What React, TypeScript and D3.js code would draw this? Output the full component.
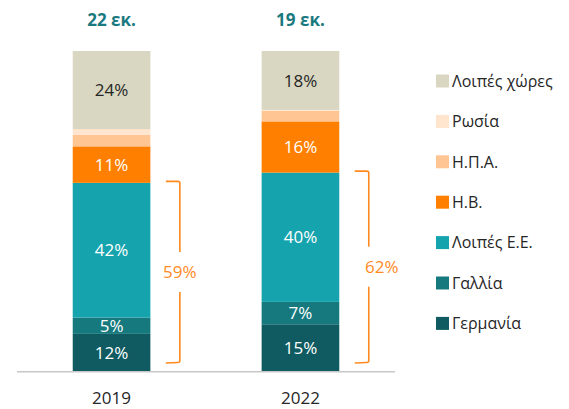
import React from "react";
import * as d3 from "d3";

const years = ["2019", "2022"];
const totals = ["22 εκ.", "19 εκ."];
const series = ["Γερμανία", "Γαλλία", "Λοιπές Ε.Ε.", "Η.Β.", "Η.Π.Α.", "Ρωσία", "Λοιπές χώρες"];
const colors = ["#0F5B61", "#16797E", "#15A4AE", "#FF7F00", "#FFC593", "#FFE4CE", "#D9D7C1"];
const labelColors = ["#fff", "#fff", "#fff", "#fff", "#262626", "#262626", "#262626"];
// values per series for each year
const values2019 = [11.6, 5.1, 42.1, 11.4, 3.6, 1.8, 24.4];
const values2022 = [14.6, 7.0, 40.4, 16.0, 3.3, 0.3, 18.4];
const labels2019 = ["12%", "5%", "42%", "11%", "", "", "24%"];
const labels2022 = ["15%", "7%", "40%", "16%", "", "", "18%"];
const bracketLabels = ["59%", "62%"];

const W = 569;
const H = 409;

export default function App() {
  const x = d3.scaleBand().domain(years).range([17, 395]).paddingInner(0.589).paddingOuter(0.295);
  const y = d3.scaleLinear().domain([0, 100]).range([371, 51]);
  const data = [values2019, values2022];
  const labels = [labels2019, labels2022];
  const stacks = data.map((vals) => {
    let acc = 0;
    return vals.map((v) => {
      const s = { y0: acc, y1: acc + v };
      acc += v;
      return s;
    });
  });
  const font = "'Open Sans', 'Noto Sans', sans-serif";
  const bracketOffsets = [0, 13];

  return (
    <svg width={W} height={H} style={{ position: "absolute", left: 0, top: 0 }} fontFamily={font}>
      <rect x={0} y={0} width={W} height={H} fill="#fff" />
      {years.map((yr, i) => {
        const bx = x(yr)!;
        const bw = x.bandwidth();
        return (
          <g key={yr}>
            {stacks[i].map((s, j) => (
              <rect key={j} x={bx} y={y(s.y1)} width={bw} height={Math.max(0, y(s.y0) - y(s.y1))} fill={colors[j]} />
            ))}
            {stacks[i].map((s, j) =>
              labels[i][j] ? (
                <text key={"l" + j} x={bx + bw / 2} y={(y(s.y0) + y(s.y1)) / 2} dy="0.36em" textAnchor="middle" fill={labelColors[j]} fontSize={17}>
                  {labels[i][j]}
                </text>
              ) : null
            )}
            <text x={bx + bw / 2} y={26} textAnchor="middle" fill="#1B7A80" fontSize={17} fontWeight="bold">
              {totals[i]}
            </text>
            <text x={bx + bw / 2} y={404} textAnchor="middle" fill="#262626" fontSize={17}>
              {yr}
            </text>
            {(() => {
              const top = y(stacks[i][2].y1) - 1.5;
              const bot = y(0) - 8.5;
              const lx = bx + bw + 29.5;
              const hx = lx - 14;
              const mid = (top + bot) / 2;
              const gapH = 20;
              return (
                <g fill="none" stroke="#FF8A1F" strokeWidth={1.6}>
                  <path d={`M${hx},${top} L${lx - 2},${top} Q${lx},${top} ${lx},${top + 2} L${lx},${mid - gapH}`} />
                  <path d={`M${lx},${mid + gapH} L${lx},${bot - 2} Q${lx},${bot} ${lx - 2},${bot} L${hx},${bot + 0.5}`} />
                  <text x={lx + bracketOffsets[i]} y={mid} dy="0.36em" textAnchor="middle" fill="#FF8A1F" stroke="none" fontSize={17}>
                    {bracketLabels[i]}
                  </text>
                </g>
              );
            })()}
          </g>
        );
      })}
      <line x1={17} x2={395} y1={371.8} y2={371.8} stroke="#C8C8C8" strokeWidth={1.6} />
      {series.map((s, j) => {
        const k = series.length - 1 - j;
        const cy = 81 + k * 40.4;
        return (
          <g key={s}>
            <rect x={436} y={cy - 6.5} width={13} height={13} fill={colors[j]} />
            <text x={452} y={cy} dy="0.36em" fill="#262626" fontSize={16}>
              {s}
            </text>
          </g>
        );
      })}
    </svg>
  );
}
